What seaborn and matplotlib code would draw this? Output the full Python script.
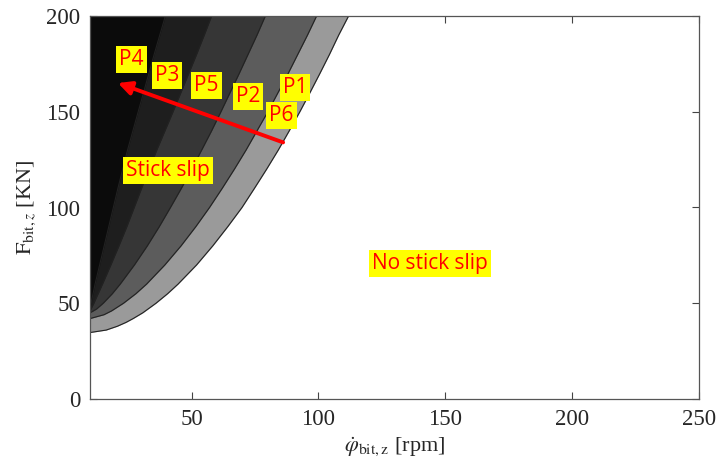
import matplotlib
matplotlib.use("Agg")
import matplotlib.pyplot as plt
import seaborn as sns

# Stability boundaries: rotary speed (rpm) reached at each axial force (kN)
force_b5 = [34.7, 36, 38, 40, 42, 45, 50, 55, 60, 70, 80, 90, 100, 110, 120, 130, 140, 150, 160, 170, 180, 190, 200]
speed_b5 = [10, 16.4, 20.8, 24.2, 27.0, 30.8, 36.0, 40.6, 44.7, 52.0, 58.4, 64.3, 69.9, 74.8, 79.6, 84.2, 88.5, 92.7, 96.7, 100.6, 104.4, 108.0, 111.9]

force_b4 = [42, 44, 46, 50, 55, 60, 70, 80, 90, 100, 110, 120, 130, 140, 150, 160, 170, 180, 190, 200]
speed_b4 = [10, 15.5, 18.5, 23.2, 28.1, 32.3, 39.5, 45.9, 51.7, 57.1, 62.1, 66.9, 71.5, 75.8, 80.1, 84.1, 88.1, 91.9, 95.7, 99.3]

force_b3 = [45, 47, 50, 55, 60, 70, 80, 90, 100, 110, 120, 130, 140, 150, 160, 170, 180, 190, 200]
speed_b3 = [10, 12.6, 15.2, 18.8, 21.9, 27.5, 32.6, 37.3, 41.7, 46.0, 50.1, 54.0, 57.9, 61.6, 65.2, 68.8, 72.3, 75.8, 79.1]

force_b2 = [46, 50, 55, 60, 70, 80, 90, 100, 110, 120, 130, 140, 150, 160, 170, 180, 190, 200]
speed_b2 = [10, 11.5, 13.2, 14.9, 18.2, 21.4, 24.5, 27.4, 30.3, 33.3, 36.3, 39.5, 42.7, 45.8, 48.9, 52.0, 55.0, 57.9]

force_b1 = [48, 50, 60, 70, 80, 90, 100, 110, 120, 130, 140, 150, 160, 170, 180, 190, 200]
speed_b1 = [10, 10.4, 12.0, 13.8, 15.6, 17.4, 19.2, 21.0, 22.9, 24.8, 26.9, 29.0, 31.1, 33.2, 35.3, 37.5, 39.7]

# Operating points and the trend arrow (rpm, kN)
point_names = ["P4", "P3", "P5", "P2", "P1", "P6"]
point_rpm = [26.4, 40.3, 56.0, 72.3, 90.8, 85.5]
point_force = [177.3, 169.1, 163.9, 157.8, 162.7, 148.2]
arrow_start = (86.1, 134.0)
arrow_end = (21.0, 165.0)

x_ticks = [50, 100, 150, 200, 250]
y_ticks = [0, 50, 100, 150, 200]

sns.set_style("ticks")
plt.rcParams["font.family"] = ["Liberation Serif", "DejaVu Serif"]
plt.rcParams["mathtext.fontset"] = "stix"

fig = plt.figure(figsize=(7.16, 4.61), dpi=100)
ax = fig.add_axes([90 / 716, 1 - 399 / 461, 609 / 716, 383 / 461])

bands = [
    (force_b5, speed_b5, "#9a9a9a"),
    (force_b4, speed_b4, "#5c5c5c"),
    (force_b3, speed_b3, "#363636"),
    (force_b2, speed_b2, "#1e1e1e"),
    (force_b1, speed_b1, "#0b0b0b"),
]
for force, speed, shade in bands:
    ax.fill_betweenx(force, 10, speed, color=shade, lw=0, zorder=1)
    sns.lineplot(x=speed, y=force, orient="y", color="#222222", lw=0.8,
                 errorbar=None, ax=ax, zorder=2)

ax.annotate("", xy=arrow_end, xytext=arrow_start,
            arrowprops=dict(arrowstyle="-|>", color="#ff0000", lw=2.8,
                            mutation_scale=20, shrinkA=0, shrinkB=0),
            zorder=4)

label_font = ["Open Sans", "DejaVu Sans"]
box = dict(boxstyle="square,pad=0.15", fc="#ffff00", ec="none")
for name, xr, yf in zip(point_names, point_rpm, point_force):
    ax.text(xr, yf, name, color="#ff0000", fontsize=15, family=label_font,
            ha="center", va="center", bbox=box, zorder=5)
ax.text(40.7, 119.4, "Stick slip", color="#ff0000", fontsize=15,
        family=label_font, ha="center", va="center", bbox=box, zorder=5)
ax.text(144, 70.7, "No stick slip", color="#ff0000", fontsize=15,
        family=label_font, ha="center", va="center", bbox=box, zorder=5)

ax.set_xlim(10, 250)
ax.set_ylim(0, 200)
ax.set_xticks(x_ticks)
ax.set_yticks(y_ticks)
ax.tick_params(direction="in", length=5, width=0.8, color="#444444",
               labelsize=16.5, top=True, right=True, pad=7)
for side in ax.spines.values():
    side.set_color("#555555")
    side.set_linewidth(0.9)
    side.set_visible(True)

ax.set_xlabel(r"$\dot{\varphi}_{\mathrm{bit,z}}$ [rpm]", fontsize=16, labelpad=4)
ax.set_ylabel(r"$\mathrm{F}_{\mathrm{bit},z}$ [KN]", fontsize=16, labelpad=6)

fig.savefig("out.png", dpi=100)
